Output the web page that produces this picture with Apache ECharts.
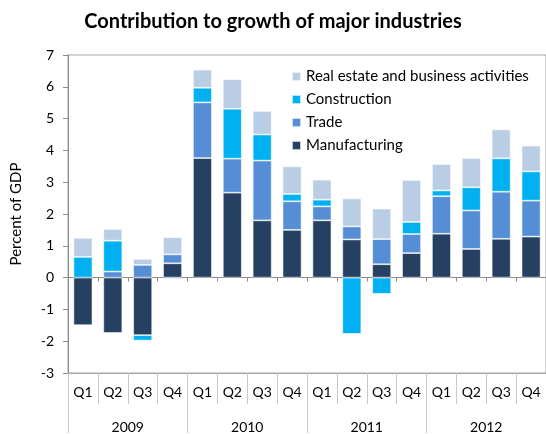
<!DOCTYPE html>
<html>
<head>
<meta charset="utf-8">
<script src="https://cdn.jsdelivr.net/npm/echarts@6/dist/echarts.min.js"></script>
<style>
  html, body { margin: 0; padding: 0; background: #fff; }
  #chart { width: 546px; height: 434px; }
</style>
</head>
<body>
<div id="chart"></div>
<script>
// Quarterly contributions to GDP growth, percentage points
const quarters = ['Q1', 'Q2', 'Q3', 'Q4', 'Q1', 'Q2', 'Q3', 'Q4', 'Q1', 'Q2', 'Q3', 'Q4', 'Q1', 'Q2', 'Q3', 'Q4'];
const years = ['2009', '2010', '2011', '2012'];
const yTicks = { min: -3, max: 7, interval: 1 };

const manufacturing = [-1.50, -1.74, -1.81, 0.45, 3.76, 2.67, 1.80, 1.50, 1.80, 1.20, 0.42, 0.77, 1.38, 0.90, 1.22, 1.29];
const trade         = [0.00, 0.19, 0.40, 0.28, 1.75, 1.07, 1.88, 0.90, 0.44, 0.41, 0.79, 0.60, 1.18, 1.21, 1.48, 1.13];
const construction  = [0.65, 0.97, -0.17, -0.04, 0.46, 1.57, 0.82, 0.23, 0.21, -1.77, -0.51, 0.38, 0.18, 0.73, 1.05, 0.92];
const realEstate    = [0.60, 0.37, 0.19, 0.54, 0.57, 0.93, 0.74, 0.87, 0.63, 0.88, 0.96, 1.32, 0.83, 0.92, 0.91, 0.81];

const seriesNames = ['Manufacturing', 'Trade', 'Construction', 'Real estate and business activities'];
const seriesData = [manufacturing, trade, construction, realEstate];
const seriesColors = ['#254061', '#558ED5', '#00B0F0', '#B9CDE5'];

const FONT = 'Lato, "Open Sans", sans-serif';
const AXIS_GRAY = '#8c8c8c';

const chart = echarts.init(document.getElementById('chart'), null, { renderer: 'canvas' });

const option = {
  animation: false,
  backgroundColor: '#ffffff',
  title: {
    text: 'Contribution to growth of major industries',
    left: 'center',
    top: 7,
    textStyle: { fontFamily: FONT, fontSize: 20, fontWeight: 'bold', color: '#000' }
  },
  legend: {
    orient: 'vertical',
    left: 286,
    top: 64,
    itemWidth: 9,
    itemHeight: 9,
    itemGap: 8,
    icon: 'rect',
    data: seriesNames.slice().reverse(),
    textStyle: { fontFamily: FONT, fontSize: 15, color: '#000' }
  },
  grid: {
    left: 68, top: 55, width: 480, height: 321,
    show: true, borderColor: '#a6a6a6', borderWidth: 1, backgroundColor: 'transparent'
  },
  xAxis: [
    {
      // category axis drawn along the zero line
      type: 'category', data: quarters, position: 'bottom',
      axisLine: { onZero: true, lineStyle: { color: AXIS_GRAY, width: 1 } },
      axisTick: { show: true, length: 4, lineStyle: { color: AXIS_GRAY } },
      axisLabel: { show: false },
      splitLine: { show: false }
    },
    {
      // quarter labels under the plot
      type: 'category', data: quarters, position: 'bottom',
      axisLine: { onZero: false, lineStyle: { color: '#a6a6a6' } },
      axisTick: { show: true, length: 31, interval: 0, lineStyle: { color: '#c8c8c8' } },
      axisLabel: { margin: 12, interval: 0, fontFamily: FONT, fontSize: 14, color: '#000' },
      splitLine: { show: false }
    },
    {
      // year labels
      type: 'category', data: years, position: 'bottom',
      axisLine: { onZero: false, show: false },
      axisTick: { show: true, length: 60, interval: 0, lineStyle: { color: '#c8c8c8' } },
      axisLabel: { margin: 47, interval: 0, fontFamily: FONT, fontSize: 14, color: '#000' },
      splitLine: { show: false }
    }
  ],
  yAxis: {
    type: 'value',
    min: yTicks.min, max: yTicks.max, interval: yTicks.interval,
    name: 'Percent of GDP',
    nameLocation: 'middle',
    nameGap: 44,
    nameRotate: 90,
    nameTextStyle: { fontFamily: FONT, fontSize: 15, color: '#000' },
    axisLine: { show: true, lineStyle: { color: AXIS_GRAY } },
    axisTick: { show: true, length: 5, lineStyle: { color: AXIS_GRAY } },
    axisLabel: { margin: 14, fontFamily: FONT, fontSize: 14, color: '#000' },
    splitLine: { show: false }
  },
  series: seriesNames.map((name, i) => ({
    name: name,
    type: 'bar',
    stack: 'total',
    xAxisIndex: 0,
    barWidth: 19,
    data: seriesData[i],
    itemStyle: { color: seriesColors[i], borderColor: 'rgba(255,255,255,0.7)', borderWidth: 0.8 }
  }))
};

chart.setOption(option);
</script>
</body>
</html>
